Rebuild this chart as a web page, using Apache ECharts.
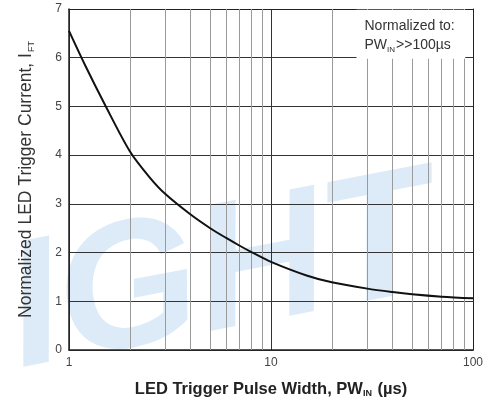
<!DOCTYPE html>
<html>
<head>
<meta charset="utf-8">
<script src="https://cdn.jsdelivr.net/npm/echarts@6/dist/echarts.min.js"></script>
<style>html,body{margin:0;padding:0;background:#fff}#c{width:488px;height:408px}</style>
</head>
<body>
<div id="c"></div>
<script>
// Data
var pulseWidth = [1, 1.2, 1.5, 2, 2.5, 3, 4, 5, 6, 7, 8, 10, 15, 20, 30, 40, 50, 70, 100];
var triggerCurrent = [6.55, 5.85, 5.05, 4.08, 3.55, 3.2, 2.78, 2.5, 2.3, 2.14, 2.01, 1.81, 1.53, 1.39, 1.26, 1.19, 1.145, 1.095, 1.06];
var minorGridX = [2, 3, 4, 5, 6, 7, 8, 9, 20, 30, 40, 50, 60, 70, 80, 90];
var xTickLabels = [1, 10, 100];
// annotation box extent in data units
var noteBoxX = [26.5, 91.5];
var noteBoxY = [5.98, 6.985];

var chart = echarts.init(document.getElementById('c'), null, {renderer: 'canvas'});
var font = 'Liberation Sans, Arial, sans-serif';
var curveData = pulseWidth.map(function (x, i) { return [x, triggerCurrent[i]]; });

chart.setOption({
  animation: false,
  backgroundColor: '#fff',
  grid: {left: 69, right: 15, top: 9, bottom: 58, containLabel: false},
  xAxis: [{
    type: 'log', logBase: 10, min: 1, max: 100,
    axisLine: {show: true, lineStyle: {color: '#222', width: 1.5}},
    axisTick: {show: false},
    axisLabel: {color: '#444', fontSize: 12, fontFamily: font, margin: 7,
      formatter: function (v) { return xTickLabels.indexOf(v) >= 0 ? String(v) : ''; }},
    splitLine: {show: true, lineStyle: {color: '#333', width: 1}},
    name: 'LED Trigger Pulse Width, PW{sub|IN} (µs)',
    nameLocation: 'middle', nameGap: 30,
    nameTextStyle: {color: '#222', fontSize: 16.5, fontWeight: 'bold', fontFamily: font,
      rich: {sub: {fontSize: 9, fontWeight: 'bold', color: '#222', fontFamily: font, padding: [9, 1, 0, 0]}}}
  }, {
    type: 'log', logBase: 10, min: 1, max: 100, position: 'top',
    axisLine: {show: true, onZero: false, lineStyle: {color: '#222', width: 1}},
    axisTick: {show: false}, axisLabel: {show: false}, splitLine: {show: false}
  }],
  yAxis: [{
    type: 'value', min: 0, max: 7, interval: 1,
    axisLine: {show: true, lineStyle: {color: '#222', width: 1.5}},
    axisTick: {show: false},
    axisLabel: {color: '#444', fontSize: 12, fontFamily: font, margin: 7},
    splitLine: {show: true, lineStyle: {color: '#333', width: 1}},
    name: 'Normalized LED Trigger Current, I{sub|FT}',
    nameLocation: 'middle', nameGap: 33, nameRotate: 90,
    nameTextStyle: {color: '#333', fontSize: 17.5, fontFamily: font,
      rich: {sub: {fontSize: 9, color: '#333', fontFamily: font, padding: [10, 0, 0, 1]}}}
  }, {
    type: 'value', min: 0, max: 7, interval: 1, position: 'right',
    axisLine: {show: true, onZero: false, lineStyle: {color: '#222', width: 1}},
    axisTick: {show: false}, axisLabel: {show: false}, splitLine: {show: false}
  }],
  series: [{
    type: 'line', data: [], z: 1, silent: true,
    markLine: {
      z: 1,
      silent: true, symbol: 'none', animation: false,
      label: {show: false},
      lineStyle: {color: '#9a9a9a', width: 1, type: 'solid'},
      data: minorGridX.map(function (v) { return {xAxis: v}; })
    }
  }, {
    type: 'line', z: 5, data: curveData, smooth: 0.3, showSymbol: false,
    lineStyle: {color: '#111', width: 2}
  }]
});

// Watermark and annotation box placed through the chart's own scales
var pA = chart.convertToPixel({xAxisIndex: 0, yAxisIndex: 0}, [noteBoxX[0], noteBoxY[1]]);
var pB = chart.convertToPixel({xAxisIndex: 0, yAxisIndex: 0}, [noteBoxX[1], noteBoxY[0]]);
chart.setOption({
  graphic: [{
    type: 'text', id: 'wm', z: -10, silent: true,
    x: 222, y: 278, rotation: 0.19, scaleX: 1.0,
    style: {
      text: 'IGHT',
      font: 'bold italic 180px Liberation Sans, Arial, sans-serif',
      fill: 'rgba(160,200,232,0.37)',
      align: 'center', verticalAlign: 'middle'
    }
  }, {
    type: 'rect', id: 'noteBox', z: 50, silent: true,
    shape: {x: pA[0], y: pA[1], width: pB[0] - pA[0], height: pB[1] - pA[1]},
    style: {fill: '#fff'}
  }, {
    type: 'text', id: 'noteText', z: 51, silent: true,
    x: pA[0] + 8, y: pA[1] + 7,
    style: {
      text: 'Normalized to:\nPW{sub|IN}>>100µs',
      font: '14px Liberation Sans, Arial, sans-serif',
      fill: '#333', lineHeight: 19,
      rich: {sub: {fontSize: 8, fill: '#333', fontFamily: font, padding: [9, 1, 0, 0]}}
    }
  }]
});
</script>
</body>
</html>
